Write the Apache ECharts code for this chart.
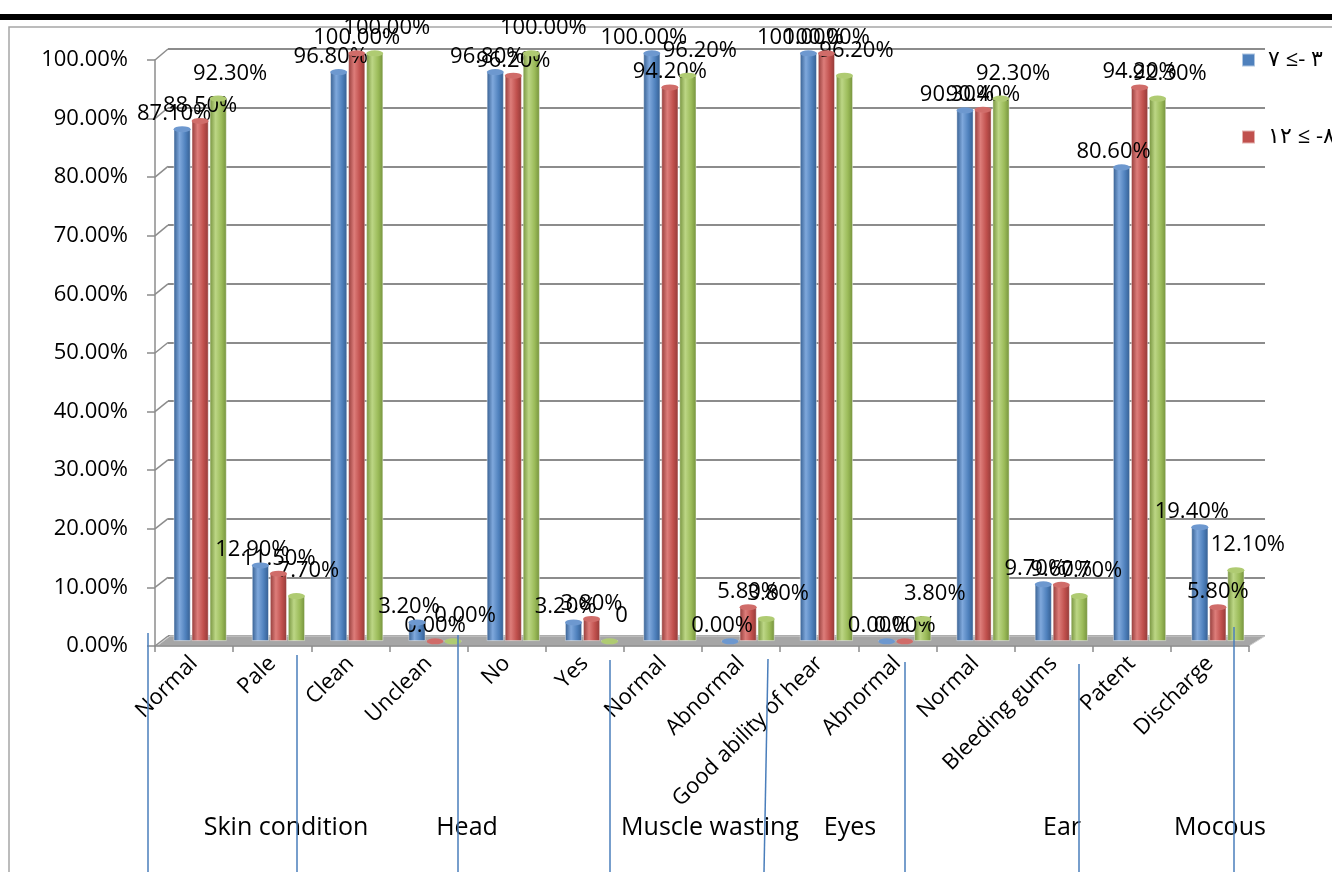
<!DOCTYPE html>
<html>
<head>
<meta charset="utf-8">
<script src="https://cdn.jsdelivr.net/npm/echarts@6/dist/echarts.min.js"></script>
<style>
html, body { margin: 0; padding: 0; background: #fff; }
#chart { width: 1332px; height: 872px; }
</style>
</head>
<body>
<div id="chart"></div>
<script>
// categories along the floor of the chart
var categories = ['Normal', 'Pale', 'Clean', 'Unclean', 'No', 'Yes', 'Normal', 'Abnormal',
    'Good ability of hear', 'Abnormal', 'Normal', 'Bleeding gums', 'Patent', 'Discharge'];
var groupNames = ['Skin condition', 'Head', 'Muscle wasting', 'Eyes', 'Ear', 'Mocous'];
var yTicks = [0, 10, 20, 30, 40, 50, 60, 70, 80, 90, 100];

// percentages per age group
var age3to7 = [87.1, 12.9, 96.8, 3.2, 96.8, 3.2, 100, 0, 100, 0, 90.3, 9.7, 80.6, 19.4];
var age8to12 = [88.5, 11.5, 100, 0, 96.2, 3.8, 94.2, 5.8, 100, 0, 90.4, 9.6, 94.2, 5.8];
var age13up = [92.3, 7.7, 100, 0, 100, 0, 96.2, 3.8, 96.2, 3.8, 92.3, 7.7, 92.3, 12.1];
// cells that were typed as a bare 0 (no percent format)
var bareZero = [[2, 5]];

var seriesNames = ['\u202D٧ ≤- ٣\u202C', '\u202D١٢ ≤ -٨\u202C', '\u202D≥ ١٣\u202C'];
var FONT = '"Open Sans", Lato, sans-serif';

// layout of the three overlaid grids (bars / back wall / front axes)
var barGrid = { left: 161, top: 53, width: 1096, height: 588 };
var backGrid = { left: 168, top: 49, width: 1097, height: 587 };
var frontGrid = { left: 155, top: 60, width: 1094, height: 586 };

var palette = [
    { base: '#4F81BD', dark: '#345d8f', light: '#7fa8dc', cap: '#6d98cf' },
    { base: '#C0504D', dark: '#923a38', light: '#dd7d7a', cap: '#d06c69' },
    { base: '#9BBB59', dark: '#74913c', light: '#bcd685', cap: '#afcb72' }
];
// label nudge per series, the excel 3d labels drift right/up for the back series
var labelOffsets = [[-8, 0], [0, 0], [12, -10]];

function cylinder(c) {
    return {
        type: 'linear', x: 0, y: 0, x2: 1, y2: 0,
        colorStops: [
            { offset: 0, color: c.dark },
            { offset: 0.35, color: c.light },
            { offset: 0.7, color: c.base },
            { offset: 1, color: c.dark }
        ]
    };
}

function isBareZero(s, i) {
    return bareZero.some(function (b) { return b[0] === s && b[1] === i; });
}

var values = [age3to7, age8to12, age13up];
var series = [];
values.forEach(function (vals, s) {
    series.push({
        name: seriesNames[s],
        type: 'bar',
        xAxisIndex: 0,
        yAxisIndex: 0,
        data: vals,
        barWidth: 17,
        barGap: '6%',
        itemStyle: { color: cylinder(palette[s]), borderColor: 'rgba(255,255,255,0.55)', borderWidth: 0.8 },
        label: {
            show: true,
            position: 'top',
            distance: 4,
            offset: labelOffsets[s],
            fontSize: 22,
            fontFamily: FONT,
            color: '#000',
            formatter: function (p) {
                if (isBareZero(s, p.dataIndex)) return String(p.value);
                return p.value.toFixed(2) + '%';
            }
        },
        z: 2
    });
});
// elliptic caps on top of each cylinder
values.forEach(function (vals, s) {
    series.push({
        name: seriesNames[s] + ' cap',
        type: 'pictorialBar',
        xAxisIndex: 0,
        yAxisIndex: 0,
        data: vals,
        barWidth: 17,
        barGap: '6%',
        symbol: 'circle',
        symbolSize: [17, 6],
        symbolPosition: 'end',
        symbolOffset: [0, '-50%'],
        itemStyle: { color: palette[s].cap, borderColor: 'rgba(255,255,255,0.9)', borderWidth: 1 },
        silent: true,
        z: 3
    });
});

var axisGrey = '#8c8c8c';
var option = {
    animation: false,
    backgroundColor: '#fff',
    grid: [barGrid, backGrid, frontGrid],
    legend: {
        data: [
            { name: seriesNames[0], itemStyle: { color: palette[0].base } },
            { name: seriesNames[1], itemStyle: { color: palette[1].base } }
        ],
        orient: 'vertical',
        left: 1236,
        top: 43,
        itemWidth: 13,
        itemHeight: 13,
        itemGap: 53,
        icon: 'rect',
        textStyle: { fontSize: 22, fontFamily: FONT, color: '#000', lineHeight: 24, padding: [0, 0, 0, 8] }
    },
    xAxis: [
        { gridIndex: 0, type: 'category', data: categories, show: false },
        { gridIndex: 1, type: 'category', data: categories, show: false },
        {
            gridIndex: 2, type: 'category', data: categories,
            axisLine: { show: true, lineStyle: { color: axisGrey, width: 1.5 } },
            axisTick: { show: true, length: 6, lineStyle: { color: axisGrey, width: 1.5 } },
            axisLabel: { interval: 0, rotate: 45, margin: 14, fontSize: 22, fontFamily: FONT, color: '#000' }
        }
    ],
    yAxis: [
        { gridIndex: 0, type: 'value', min: 0, max: 100, show: false, splitLine: { show: false } },
        {
            gridIndex: 1, type: 'value', min: 0, max: 100, interval: 10,
            axisLine: { show: false }, axisTick: { show: false }, axisLabel: { show: false },
            splitLine: { show: true, lineStyle: { color: axisGrey, width: 2 } }
        },
        {
            gridIndex: 2, type: 'value', min: 0, max: 100, interval: 10,
            axisLine: { show: true, lineStyle: { color: axisGrey, width: 1.5 } },
            axisTick: { show: true, length: 8, lineStyle: { color: axisGrey, width: 1.5 } },
            splitLine: { show: false },
            axisLabel: {
                margin: 27, fontSize: 22, fontFamily: FONT, color: '#000',
                formatter: function (v) { return v.toFixed(2) + '%'; }
            }
        }
    ],
    series: series
};

var chart = echarts.init(document.getElementById('chart'));
chart.setOption(option);

// decorations: page rule, frame, floor, wall connectors, group captions, separators
var graphics = [
    { type: 'rect', shape: { x: 0, y: 14, width: 1332, height: 6 }, style: { fill: '#000' }, z: 0 },
    { type: 'polyline', shape: { points: [[9, 872], [9, 27], [1332, 27]] }, style: { stroke: '#a6a6a6', lineWidth: 1.5, fill: null }, z: 0 }
];

var fl = frontGrid.left, fr = frontGrid.left + frontGrid.width, fb = frontGrid.top + frontGrid.height;
var bl = backGrid.left, br = backGrid.left + backGrid.width, bb = backGrid.top + backGrid.height;
graphics.push({
    type: 'polygon',
    shape: { points: [[fl + 2, fb], [bl + 2, bb], [br, bb], [fr, fb]] },
    style: { fill: '#a6a6a6', stroke: '#d0d0d0', lineWidth: 1 },
    z: 0
});

yTicks.forEach(function (v) {
    var yf = chart.convertToPixel({ yAxisIndex: 2 }, v);
    var yb = chart.convertToPixel({ yAxisIndex: 1 }, v);
    graphics.push({
        type: 'line',
        shape: { x1: fl, y1: yf, x2: bl, y2: yb },
        style: { stroke: axisGrey, lineWidth: 1.5 },
        z: 1
    });
});

var captionX = [286, 467, 710, 850, 1062, 1220];
groupNames.forEach(function (name, i) {
    graphics.push({
        type: 'text',
        style: { text: name, x: captionX[i], y: 828, fontSize: 25, fontFamily: FONT, fill: '#000', align: 'center', verticalAlign: 'middle' },
        z: 5
    });
});

var separators = [[148, 633, 148, 872], [297, 655, 297, 872], [458, 635, 458, 872], [610, 660, 610, 872],
    [768, 659, 764, 872], [905, 662, 905, 872], [1079, 664, 1079, 872], [1234, 627, 1234, 872]];
separators.forEach(function (s) {
    graphics.push({
        type: 'line',
        shape: { x1: s[0], y1: s[1], x2: s[2], y2: s[3] },
        style: { stroke: '#4a7ebb', lineWidth: 1.5 },
        z: 10
    });
});

chart.setOption({ graphic: graphics });
</script>
</body>
</html>
